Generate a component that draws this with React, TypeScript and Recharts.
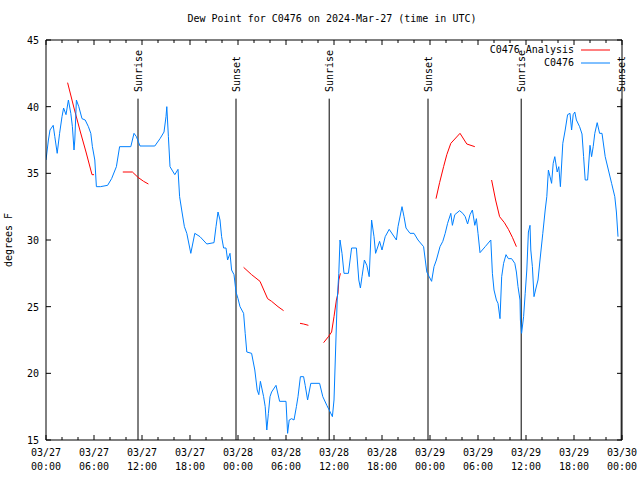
import { LineChart, Line, XAxis, YAxis, ReferenceLine } from "recharts";

// hours since 2024-03-27 00:00 UTC
const obsHours = [
  0.0, 0.3, 0.5, 0.9, 1.1, 1.4, 1.7, 2.0, 2.2, 2.5, 2.8, 3.1, 3.3, 3.5, 3.6,
  3.8, 4.1, 4.5, 4.9, 5.3, 5.6, 5.8, 6.1, 6.3, 6.8, 7.7, 8.2, 8.8, 9.2, 10.6,
  11.0, 11.3, 11.75, 13.6, 14.25, 14.75, 15.0, 15.1, 15.3, 15.5, 15.9, 16.1,
  16.5, 16.7, 17.0, 17.3, 17.6, 18.1, 18.6, 19.25, 20.1, 21.0, 21.25, 21.5,
  21.75, 21.95, 22.2, 22.5, 22.7, 23.0, 23.2, 23.5, 23.75, 24.0, 24.25, 24.7,
  24.9, 25.1, 25.7, 26.1, 26.4, 26.6, 26.8, 27.2, 27.4, 27.6, 27.8, 28.0,
  28.2, 28.75, 29.2, 30.0, 30.2, 30.4, 30.7, 31.0, 31.3, 31.5, 31.8, 32.2,
  32.4, 32.7, 33.1, 34.2, 34.6, 35.1, 35.4, 35.8, 36.0, 36.2, 36.4, 36.6,
  36.75, 37.0, 37.25, 37.8, 38.2, 38.8, 39.1, 39.3, 39.5, 39.8, 40.1, 40.4,
  40.7, 41.0, 41.2, 41.7, 42.0, 42.4, 42.9, 43.8, 44.0, 44.5, 44.75, 45.0,
  45.5, 46.0, 46.5, 47.2, 47.6, 47.9, 48.2, 48.5, 48.8, 49.25, 49.6, 49.9,
  50.2, 50.6, 50.8, 51.1, 51.7, 52.1, 52.4, 52.7, 53.0, 53.3, 53.6, 53.8,
  54.0, 54.25, 54.9, 55.6, 55.8, 56.0, 56.3, 56.5, 56.75, 56.96, 57.2, 57.5,
  57.8, 58.2, 58.6, 58.8, 59.0, 59.25, 59.3, 59.45, 59.7, 59.9, 60.1, 60.3,
  60.5, 60.6, 60.8, 61.0, 61.25, 61.5, 61.75, 62.1, 62.4, 62.6, 62.8, 63.0,
  63.2, 63.4, 63.6, 63.9, 64.1, 64.3, 64.6, 64.9, 65.2, 65.5, 65.7, 65.9,
  66.1, 66.3, 66.7, 67.0, 67.2, 67.4, 67.7, 68.0, 68.2, 68.4, 68.6, 68.9,
  69.2, 69.5, 69.9, 70.3, 70.7, 71.1, 71.3, 71.5,
];
const obsDew = [
  36.0, 37.5, 38.25, 38.6, 37.75, 36.5, 38.0, 39.25, 39.9, 39.4, 40.5, 39.5,
  38.5, 36.75, 37.5, 40.5, 40.0, 39.1, 39.0, 38.5, 38.0, 37.0, 36.0, 34.0,
  34.0, 34.1, 34.6, 35.5, 37.0, 37.0, 38.0, 37.75, 37.05, 37.05, 37.6, 38.1,
  39.25, 40.0, 37.75, 35.5, 35.1, 34.9, 35.3, 33.25, 32.1, 31.0, 30.5, 29.0,
  30.5, 30.25, 29.7, 29.8, 31.0, 32.1, 31.5, 30.25, 29.4, 29.4, 28.5, 29.0,
  27.75, 27.4, 26.1, 25.6, 25.0, 24.5, 23.0, 21.6, 21.5, 20.25, 18.75, 18.4,
  19.4, 18.25, 17.5, 15.75, 17.0, 18.25, 18.6, 19.1, 17.9, 17.9, 15.5, 16.5,
  16.6, 16.5, 17.5, 18.25, 19.75, 19.75, 19.1, 18.0, 19.25, 19.25, 18.25,
  17.6, 17.25, 16.75, 18.0, 21.75, 25.5, 27.5, 30.0, 29.0, 27.5, 27.5, 29.4,
  29.4, 27.0, 26.4, 27.25, 28.5, 28.1, 27.25, 31.5, 30.25, 29.0, 29.9, 29.25,
  30.25, 30.8, 30.0, 31.0, 32.5, 31.75, 30.9, 30.5, 30.5, 30.0, 29.5, 27.6,
  27.25, 26.9, 28.0, 28.5, 29.5, 29.9, 30.5, 31.25, 32.0, 31.1, 31.9, 32.2,
  32.0, 31.75, 31.2, 31.9, 32.25, 31.1, 31.6, 30.5, 29.05, 29.5, 30.0, 27.5,
  26.25, 25.5, 25.25, 24.1, 27.25, 28.25, 28.9, 28.6, 28.6, 28.25, 27.6, 26.5,
  25.5, 24.0, 23.0, 24.25, 26.0, 27.75, 30.6, 31.1, 29.25, 28.0, 25.75, 26.4,
  27.0, 28.5, 30.5, 32.25, 33.25, 35.25, 34.75, 34.25, 35.75, 36.25, 35.1,
  35.5, 34.0, 37.25, 38.25, 39.4, 39.5, 38.25, 39.4, 39.6, 39.0, 38.5, 37.95,
  36.25, 34.5, 34.5, 37.1, 36.25, 37.0, 38.0, 38.8, 38.0, 38.0, 36.25, 35.25,
  34.25, 33.25, 32.1, 30.25,
];

// analysis values, null = gap
const anaHours = [
  2.7, 3.5, 4.3, 5.0, 5.75, 6.0, 6.5,
  9.6, 10.8, 11.5, 12.2, 12.8, 13.0,
  24.7, 25.7, 26.75, 27.7, 28.2, 29.0, 29.7, 30.0,
  31.75, 32.2, 32.8, 33.5,
  34.7, 35.3, 35.7, 36.0, 36.3, 36.5, 36.6, 36.8, 37.5,
  48.75, 49.2, 49.7, 50.1, 50.6, 51.75, 52.6, 53.6, 54.5,
  55.7, 56.2, 56.7, 57.3, 57.8, 58.3, 58.8,
];
const anaDew = [
  41.8, 39.9, 38.1, 36.6, 34.9, 34.9, null,
  35.1, 35.1, 34.7, 34.4, 34.2, null,
  27.95, 27.4, 26.9, 25.6, 25.4, 25.0, 24.7, null,
  23.75, 23.7, 23.6, null,
  22.3, 22.75, 23.1, 24.25, 25.5, 26.0, 27.0, 27.5, null,
  33.1, 34.3, 35.5, 36.4, 37.25, 38.0, 37.2, 37.0, null,
  34.5, 33.0, 31.75, 31.3, 30.8, 30.2, 29.5,
];

const sunHours = [11.5, 23.75, 35.4, 47.75, 59.4, 71.9];
const sunLabels = ["Sunrise", "Sunset", "Sunrise", "Sunset", "Sunrise", "Sunset"];

const majorHours = [0, 6, 12, 18, 24, 30, 36, 42, 48, 54, 60, 66, 72];
const dateLabels = ["03/27", "03/27", "03/27", "03/27", "03/28", "03/28", "03/28", "03/28", "03/29", "03/29", "03/29", "03/29", "03/30"];
const timeLabels = ["00:00", "06:00", "12:00", "18:00", "00:00", "06:00", "12:00", "18:00", "00:00", "06:00", "12:00", "18:00", "00:00"];
const allHours = majorHours.flatMap((h) => (h < 72 ? [h, h + 2, h + 4] : [h]));
const yTicks = [15, 20, 25, 30, 35, 40, 45];

const FONT = "'DejaVu Sans Mono', monospace";
const BLUE = "#0080ff";
const RED = "#ff0000";

const obsData = obsHours.map((h, i) => ({ h, v: obsDew[i] }));
const anaData = anaHours.map((h, i) => ({ h, v: anaDew[i] }));

function BottomTick(props: any) {
  const { x, y, payload } = props;
  const idx = majorHours.indexOf(payload.value);
  const major = idx >= 0;
  return (
    <g>
      <line x1={x} x2={x} y1={y} y2={y - (major ? 5 : 3)} stroke="#000" />
      {major && (
        <text x={x} y={y + 16} textAnchor="middle" fontFamily={FONT} fontSize={10} fill="#000">
          {dateLabels[idx]}
        </text>
      )}
      {major && (
        <text x={x} y={y + 30} textAnchor="middle" fontFamily={FONT} fontSize={10} fill="#000">
          {timeLabels[idx]}
        </text>
      )}
    </g>
  );
}

function TopTick(props: any) {
  const { x, y, payload } = props;
  const major = majorHours.includes(payload.value);
  return <line x1={x} x2={x} y1={y} y2={y + (major ? 5 : 3)} stroke="#000" />;
}

function LeftTick(props: any) {
  const { x, y, payload } = props;
  return (
    <g>
      <line x1={x} x2={x + 5} y1={y} y2={y} stroke="#000" />
      <text x={x - 7} y={y} dy={4} textAnchor="end" fontFamily={FONT} fontSize={10} fill="#000">
        {payload.value}
      </text>
    </g>
  );
}

function RightTick(props: any) {
  const { x, y } = props;
  return <line x1={x} x2={x - 5} y1={y} y2={y} stroke="#000" />;
}

function SunLabel(props: any) {
  const { viewBox, text } = props;
  const x = viewBox.x;
  const y = viewBox.y + 52;
  return (
    <text
      x={x}
      y={y}
      transform={`rotate(-90 ${x} ${y})`}
      dy={4}
      textAnchor="start"
      fontFamily={FONT}
      fontSize={10}
      fill="#000"
    >
      {text}
    </text>
  );
}

export default function App() {
  return (
    <div style={{ position: "absolute", left: 0, top: 0, width: 640, height: 480, background: "#fff" }}>
      <div
        style={{
          position: "absolute",
          left: 44,
          top: 13,
          width: 576,
          textAlign: "center",
          fontFamily: FONT,
          fontSize: 10,
        }}
      >
        Dew Point for C0476 on 2024-Mar-27 (time in UTC)
      </div>
      <div style={{ position: "absolute", left: 436, top: 43, width: 180, fontFamily: FONT, fontSize: 10, zIndex: 2 }}>
        {[
          { name: "C0476 Analysis", color: RED },
          { name: "C0476", color: BLUE },
        ].map((s) => (
          <div key={s.name} style={{ display: "flex", alignItems: "center", justifyContent: "flex-end", height: 13 }}>
            <span>{s.name}</span>
            <svg width={36} height={6} style={{ marginLeft: 6 }}>
              <line x1={1} x2={30} y1={3} y2={3} stroke={s.color} strokeWidth={1} />
            </svg>
          </div>
        ))}
      </div>
      <LineChart width={640} height={480} margin={{ top: 39, right: 0, bottom: 0, left: 0 }}>
        <XAxis
          dataKey="h"
          type="number"
          domain={[0, 72]}
          ticks={allHours}
          interval={0}
          allowDataOverflow
          height={40}
          tickSize={0}
          tickMargin={0}
          tickLine={false}
          axisLine={{ stroke: "#000" }}
          tick={<BottomTick />}
        />
        <XAxis
          xAxisId="top"
          orientation="top"
          dataKey="h"
          type="number"
          domain={[0, 72]}
          ticks={allHours}
          interval={0}
          allowDataOverflow
          height={1}
          tickSize={0}
          tickMargin={0}
          tickLine={false}
          axisLine={{ stroke: "#000" }}
          tick={<TopTick />}
        />
        <YAxis
          type="number"
          domain={[15, 45]}
          ticks={yTicks}
          interval={0}
          allowDataOverflow
          width={46}
          tickSize={0}
          tickMargin={0}
          tickLine={false}
          axisLine={{ stroke: "#000" }}
          tick={<LeftTick />}
          label={(p: any) => (
            <text
              x={12}
              y={p.viewBox.y + p.viewBox.height / 2}
              transform={`rotate(-90 12 ${p.viewBox.y + p.viewBox.height / 2})`}
              textAnchor="middle"
              fontFamily={FONT}
              fontSize={10}
              fill="#000"
            >
              degrees F
            </text>
          )}
        />
        <YAxis
          yAxisId="right"
          orientation="right"
          type="number"
          domain={[15, 45]}
          ticks={yTicks}
          interval={0}
          allowDataOverflow
          width={18}
          tickSize={0}
          tickMargin={0}
          tickLine={false}
          axisLine={{ stroke: "#000" }}
          tick={<RightTick />}
        />
        {sunHours.map((h, i) => (
          <ReferenceLine
            key={"seg" + i}
            segment={[
              { x: h, y: 15 },
              { x: h, y: 40.6 },
            ]}
            stroke="#000"
            strokeWidth={1}
            ifOverflow="visible"
          />
        ))}
        {sunHours.map((h, i) => (
          <ReferenceLine
            key={"lab" + i}
            x={h}
            stroke="none"
            label={(p: any) => <SunLabel viewBox={p.viewBox} text={sunLabels[i]} />}
          />
        ))}
        {/* invisible copy so the top and right axes get a domain */}
        <Line
          data={obsData}
          dataKey="v"
          xAxisId="top"
          yAxisId="right"
          stroke="none"
          dot={false}
          activeDot={false}
          legendType="none"
          isAnimationActive={false}
        />
        <Line
          data={anaData}
          dataKey="v"
          type="linear"
          stroke={RED}
          strokeWidth={1}
          dot={false}
          connectNulls={false}
          isAnimationActive={false}
        />
        <Line
          data={obsData}
          dataKey="v"
          type="linear"
          stroke={BLUE}
          strokeWidth={1}
          dot={false}
          isAnimationActive={false}
        />
      </LineChart>
    </div>
  );
}
